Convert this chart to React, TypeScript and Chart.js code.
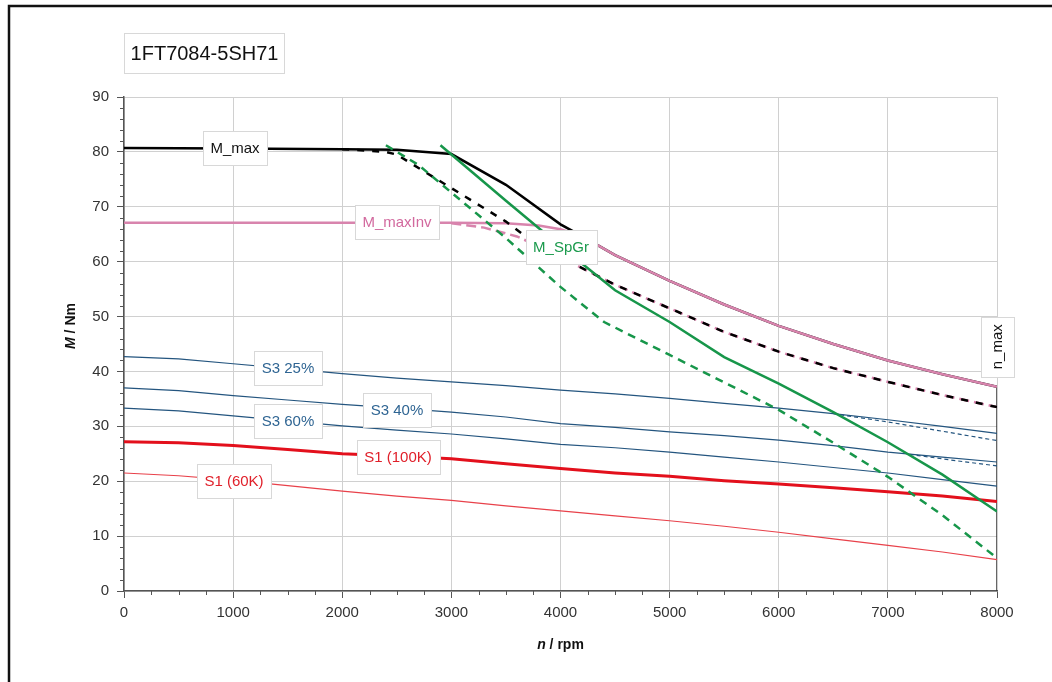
import React, { useEffect, useRef } from 'react';
import { Chart, registerables } from 'chart.js';

Chart.register(...registerables);

// ---------- data ----------
const TITLE = '1FT7084-5SH71';
const X_TITLE_ITALIC = 'n';
const X_TITLE_REST = ' / rpm';
const Y_TITLE_ITALIC = 'M';
const Y_TITLE_REST = ' / Nm';

const X_MIN = 0;
const X_MAX = 8000;
const X_STEP = 1000;
const X_MINOR = 250;
const Y_MIN = 0;
const Y_MAX = 90;
const Y_STEP = 10;
const Y_MINOR = 2;

const rpmStd = [0, 500, 1000, 1500, 2000, 2500, 3000, 3500, 4000, 4500, 5000, 5500, 6000, 6500, 7000, 7500, 8000];

const mMaxRpm = [0, 1000, 2000, 2500, 3000, 3500, 4000, 4200, 4500, 5000, 5500, 6000, 6500, 7000, 7500, 8000];
const mMaxNm = [80.7, 80.6, 80.5, 80.4, 79.6, 74.0, 66.8, 64.6, 61.2, 56.5, 52.2, 48.3, 45.0, 42.0, 39.5, 37.2];

const mMaxInvRpm = [0, 3000, 3500, 3800, 4000, 4200, 4500, 5000, 5500, 6000, 6500, 7000, 7500, 8000];
const mMaxInvNm = [67.1, 67.1, 67.0, 66.6, 65.9, 64.6, 61.2, 56.5, 52.2, 48.3, 45.0, 42.0, 39.5, 37.2];

const mMaxDashRpm = [2000, 2400, 2500, 3000, 3500, 3800, 4000, 4500, 5000, 5500, 6000, 6500, 7000, 7500, 8000];
const mMaxDashNm = [80.5, 80.0, 79.5, 73.4, 67.3, 62.8, 60.8, 55.8, 51.5, 47.2, 43.6, 40.6, 38.1, 35.7, 33.5];

const mMaxInvDashRpm = [3000, 3300, 3600, 3800, 4000, 4500, 5000, 5500, 6000, 6500, 7000, 7500, 8000];
const mMaxInvDashNm = [67.0, 66.2, 64.6, 62.8, 60.8, 55.8, 51.5, 47.2, 43.6, 40.6, 38.1, 35.7, 33.5];

const spGrRpm = [2900, 3500, 4000, 4500, 5000, 5500, 6000, 6500, 7000, 7500, 8000];
const spGrNm = [81.2, 71.1, 62.8, 54.8, 49.0, 42.6, 37.8, 32.6, 27.1, 21.2, 14.5];

const spGrDashRpm = [2400, 2700, 3000, 3500, 4000, 4400, 5000, 5500, 6000, 6500, 7000, 7500, 8000];
const spGrDashNm = [81.2, 77.6, 72.6, 64.3, 55.4, 49.0, 43.0, 38.0, 33.0, 27.0, 20.8, 13.8, 6.0];

const s3_25Nm = [42.7, 42.3, 41.4, 40.5, 39.6, 38.8, 38.1, 37.4, 36.6, 35.9, 35.1, 34.2, 33.3, 32.3, 31.2, 30.0, 28.7];
const s3_40Nm = [37.0, 36.5, 35.6, 34.8, 34.0, 33.3, 32.6, 31.7, 30.5, 29.8, 29.0, 28.3, 27.5, 26.5, 25.3, 24.4, 23.5];
const s3_60Nm = [33.3, 32.8, 31.9, 31.0, 30.1, 29.3, 28.6, 27.7, 26.7, 26.1, 25.3, 24.4, 23.5, 22.5, 21.5, 20.3, 19.1];
const s1_100Nm = [27.2, 27.0, 26.5, 25.8, 25.0, 24.6, 24.1, 23.2, 22.3, 21.5, 20.9, 20.1, 19.5, 18.8, 18.1, 17.3, 16.3];
const s1_60Nm = [21.5, 21.0, 20.2, 19.2, 18.2, 17.3, 16.5, 15.5, 14.6, 13.7, 12.8, 11.8, 10.7, 9.5, 8.3, 7.1, 5.7];

const s3_25DashRpm = [6500, 7000, 7500, 8000];
const s3_25DashNm = [32.3, 30.8, 29.1, 27.4];
const s3_40DashRpm = [7200, 7600, 8000];
const s3_40DashNm = [24.9, 23.8, 22.8];

const nMaxRpm = [8000, 8000];
const nMaxNm = [0, 37.2];

// label annotations: text, anchor (rpm, Nm), colour key
const labelTexts = ['M_max', 'M_maxInv', 'M_SpGr', 'S3 25%', 'S3 40%', 'S3 60%', 'S1 (100K)', 'S1 (60K)'];
const labelRpm = [1017, 2502, 4005, 1503, 2502, 1503, 2511, 1008];
const labelNm = [80.7, 67.2, 62.7, 40.6, 33.0, 31.0, 24.4, 20.0];
const NMAX_TEXT = 'n_max';
const nMaxLabelNm = 44.5;

// ---------- styles ----------
const C_BLACK = '#000000';
const C_PINK = '#d884ad';
const C_PINK_TXT = '#d2699e';
const C_GREEN = '#17964a';
const C_GREEN_TXT = '#1a9a4c';
const C_BLUE = '#24557f';
const C_BLUE_TXT = '#2f6593';
const C_RED = '#e3101c';
const C_RED_THIN = '#e8414a';
const C_RED_TXT = '#e0202a';
const labelColors = ['#111111', C_PINK_TXT, C_GREEN_TXT, C_BLUE_TXT, C_BLUE_TXT, C_BLUE_TXT, C_RED_TXT, C_RED_TXT];

const FONT_FAMILY = '"Liberation Sans", Arial, Helvetica, sans-serif';

const zip = (xs: number[], ys: number[]) => xs.map((x, i) => ({ x, y: ys[i] }));

const decorPlugin = {
  id: 'decor',
  afterDraw(chart: any) {
    const { ctx, chartArea: a, scales } = chart;
    const xs = scales.x;
    const ys = scales.y;
    ctx.save();

    // minor ticks
    ctx.strokeStyle = '#555';
    ctx.lineWidth = 1;
    for (let v = Y_MIN + Y_MINOR; v < Y_MAX; v += Y_MINOR) {
      if (v % Y_STEP === 0) continue;
      const py = Math.round(ys.getPixelForValue(v)) + 0.5;
      ctx.beginPath();
      ctx.moveTo(a.left - 4, py);
      ctx.lineTo(a.left, py);
      ctx.stroke();
    }
    for (let v = X_MIN + X_MINOR; v < X_MAX; v += X_MINOR) {
      if (v % X_STEP === 0) continue;
      const px = Math.round(xs.getPixelForValue(v)) + 0.5;
      ctx.beginPath();
      ctx.moveTo(px, a.bottom);
      ctx.lineTo(px, a.bottom + 4);
      ctx.stroke();
    }

    // label boxes
    ctx.font = `15px ${FONT_FAMILY}`;
    ctx.textAlign = 'center';
    ctx.textBaseline = 'middle';
    labelTexts.forEach((t, i) => {
      const cx = xs.getPixelForValue(labelRpm[i]);
      const cy = ys.getPixelForValue(labelNm[i]);
      const w = Math.round(ctx.measureText(t).width + 15);
      const h = 34;
      const x0 = Math.round(cx - w / 2) + 0.5;
      const y0 = Math.round(cy - h / 2) + 0.5;
      ctx.fillStyle = '#ffffff';
      ctx.fillRect(x0, y0, w, h);
      ctx.strokeStyle = '#d8d8d8';
      ctx.lineWidth = 1;
      ctx.strokeRect(x0, y0, w, h);
      ctx.fillStyle = labelColors[i];
      ctx.fillText(t, cx, cy + 1);
    });

    // n_max vertical label
    {
      const cx = xs.getPixelForValue(X_MAX);
      const cy = ys.getPixelForValue(nMaxLabelNm);
      const w = 33;
      const h = Math.round(ctx.measureText(NMAX_TEXT).width + 15);
      const x0 = Math.round(cx - w / 2) + 0.5;
      const y0 = Math.round(cy - h / 2) + 0.5;
      ctx.fillStyle = '#ffffff';
      ctx.fillRect(x0, y0, w, h);
      ctx.strokeStyle = '#d8d8d8';
      ctx.strokeRect(x0, y0, w, h);
      ctx.save();
      ctx.translate(cx + 1, cy);
      ctx.rotate(-Math.PI / 2);
      ctx.fillStyle = '#111111';
      ctx.fillText(NMAX_TEXT, 0, 0);
      ctx.restore();
    }

    // title box
    ctx.fillStyle = '#ffffff';
    ctx.fillRect(124.5, 33.5, 160, 40);
    ctx.strokeStyle = '#d8d8d8';
    ctx.strokeRect(124.5, 33.5, 160, 40);
    ctx.font = `20px ${FONT_FAMILY}`;
    ctx.fillStyle = '#111111';
    ctx.fillText(TITLE, 204.5, 54);

    // axis titles
    const drawMixed = (it: string, rest: string, size: number) => {
      const fIt = `italic bold ${size}px ${FONT_FAMILY}`;
      const fRe = `bold ${size}px ${FONT_FAMILY}`;
      ctx.font = fIt;
      const w1 = ctx.measureText(it).width;
      ctx.font = fRe;
      const w2 = ctx.measureText(rest).width;
      const start = -(w1 + w2) / 2;
      ctx.textAlign = 'left';
      ctx.font = fIt;
      ctx.fillText(it, start, 0);
      ctx.font = fRe;
      ctx.fillText(rest, start + w1, 0);
    };
    ctx.fillStyle = '#111111';
    ctx.textBaseline = 'middle';
    ctx.save();
    ctx.translate((a.left + a.right) / 2, 645);
    drawMixed(X_TITLE_ITALIC, X_TITLE_REST, 14);
    ctx.restore();
    ctx.save();
    ctx.translate(71, 326);
    ctx.rotate(-Math.PI / 2);
    drawMixed(Y_TITLE_ITALIC, Y_TITLE_REST, 14);
    ctx.restore();

    // outer frame
    ctx.strokeStyle = '#111111';
    ctx.lineWidth = 2.5;
    ctx.beginPath();
    ctx.moveTo(9, 682);
    ctx.lineTo(9, 6);
    ctx.lineTo(1052, 6);
    ctx.stroke();

    ctx.restore();
  },
};

export default function App() {
  const ref = useRef<HTMLCanvasElement | null>(null);

  useEffect(() => {
    if (!ref.current) return;
    const tickFont = { family: FONT_FAMILY, size: 15 };
    const line = (data: any, color: string, width: number, order: number, dash: number[] = [], dashOffset = 0) => ({
      data,
      borderColor: color,
      backgroundColor: color,
      borderWidth: width,
      borderDash: dash,
      borderDashOffset: dashOffset,
      pointRadius: 0,
      fill: false,
      tension: 0,
      order,
    });

    const chart = new Chart(ref.current, {
      type: 'line',
      data: {
        datasets: [
          line(zip(spGrRpm, spGrNm), C_GREEN, 2.5, 1),
          line(zip(spGrDashRpm, spGrDashNm), C_GREEN, 2.5, 2, [8, 6]),
          line(zip(mMaxDashRpm, mMaxDashNm), C_BLACK, 2.5, 3, [7, 8]),
          line(zip(mMaxInvDashRpm, mMaxInvDashNm), C_PINK, 2.5, 4, [10, 5]),
          line(zip(mMaxInvRpm, mMaxInvNm), C_PINK, 2.5, 5),
          line(zip(mMaxRpm, mMaxNm), C_BLACK, 2.5, 6),
          line(zip(rpmStd, s1_100Nm), C_RED, 3, 7),
          line(zip(rpmStd, s1_60Nm), C_RED_THIN, 1.2, 8),
          line(zip(rpmStd, s3_25Nm), C_BLUE, 1.2, 9),
          line(zip(rpmStd, s3_40Nm), C_BLUE, 1.2, 10),
          line(zip(rpmStd, s3_60Nm), C_BLUE, 1.2, 11),
          line(zip(s3_25DashRpm, s3_25DashNm), C_BLUE, 1.2, 12, [4, 3]),
          line(zip(s3_40DashRpm, s3_40DashNm), C_BLUE, 1.2, 13, [4, 3]),
          line(zip(nMaxRpm, nMaxNm), '#333333', 1.5, 14),
        ],
      },
      options: {
        responsive: false,
        animation: false,
        events: [],
        layout: { padding: { left: 0, top: 97, right: 55, bottom: 0 } },
        plugins: {
          legend: { display: false },
          tooltip: { enabled: false },
          title: { display: false },
        },
        scales: {
          x: {
            type: 'linear',
            min: X_MIN,
            max: X_MAX,
            afterFit: (s: any) => {
              s.height = 91;
            },
            ticks: {
              stepSize: X_STEP,
              autoSkip: false,
              maxRotation: 0,
              font: tickFont,
              color: '#333333',
              padding: 6,
              callback: (v: any) => String(v),
            },
            grid: { color: '#d0d0d0', lineWidth: 1, tickLength: 7, tickColor: '#555555' },
            border: { color: '#555555', width: 1.5 },
          },
          y: {
            type: 'linear',
            min: Y_MIN,
            max: Y_MAX,
            afterFit: (s: any) => {
              s.width = 124;
            },
            ticks: {
              stepSize: Y_STEP,
              font: tickFont,
              color: '#333333',
              padding: 8,
              callback: (v: any) => String(v),
            },
            grid: { color: '#d0d0d0', lineWidth: 1, tickLength: 7, tickColor: '#555555' },
            border: { color: '#555555', width: 1.5 },
          },
        },
      },
      plugins: [decorPlugin],
    } as any);

    return () => chart.destroy();
  }, []);

  return (
    <div style={{ position: 'absolute', left: 0, top: 0, width: 1052, height: 682, background: '#ffffff' }}>
      <canvas ref={ref} width={1052} height={682} style={{ display: 'block', width: 1052, height: 682 }} />
    </div>
  );
}
